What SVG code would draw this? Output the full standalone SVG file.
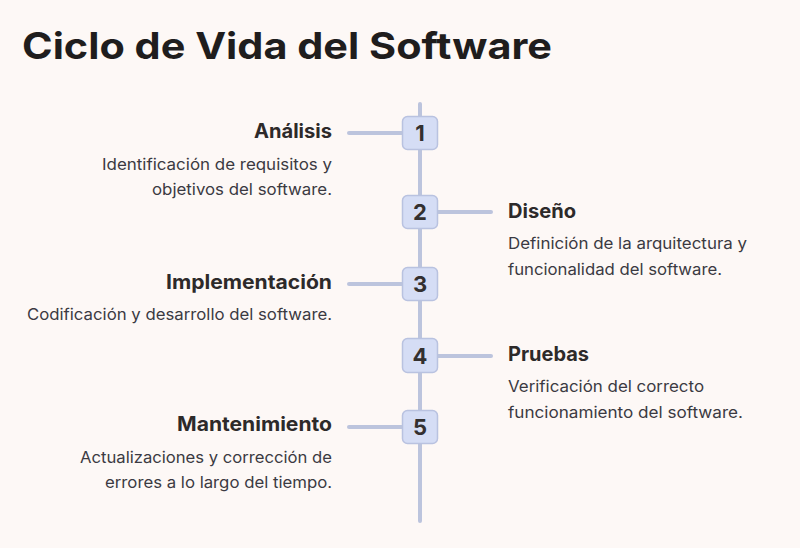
<svg xmlns="http://www.w3.org/2000/svg" width="800" height="548" viewBox="0 0 800 548">
  <style>
    .title { font-family: Inter, "Liberation Sans", sans-serif; font-weight: 700; font-size: 37px; fill: #1f1d1d; }
    .head { font-family: Inter, "Liberation Sans", sans-serif; font-weight: 700; font-size: 19.5px; fill: #2d2a2a; }
    .desc { font-family: Inter, "Liberation Sans", sans-serif; font-weight: 400; font-size: 16px; fill: #3b3a42; }
    .num { font-family: Inter, "Liberation Sans", sans-serif; font-weight: 700; font-size: 22px; fill: #333030; text-anchor: middle; }
    .box { fill: #d5ddf5; stroke: #b9c2e0; stroke-width: 1.5; }
    .line { stroke: #bcc4dd; stroke-width: 4; stroke-linecap: round; fill: none; }
    .l { text-anchor: end; }
  </style>
  <rect width="800" height="548" fill="#fdf8f6"/>

  <text class="title" x="22" y="59" textLength="530" lengthAdjust="spacingAndGlyphs">Ciclo de Vida del Software</text>

  <!-- timeline spine and branch connectors -->
  <g id="connectors">
    <line class="line" x1="420" y1="104" x2="420" y2="521"/>
    <line class="line" x1="349" y1="133" x2="402" y2="133"/>
    <line class="line" x1="438" y1="212" x2="491" y2="212"/>
    <line class="line" x1="349" y1="284" x2="402" y2="284"/>
    <line class="line" x1="438" y1="356" x2="491" y2="356"/>
    <line class="line" x1="349" y1="427" x2="402" y2="427"/>
  </g>

  <g id="step1">
    <rect class="box" x="402.5" y="116.5" width="35" height="33" rx="5"/>
    <text class="num" x="420" y="141">1</text>
    <text class="head l" x="332" y="138" textLength="78" lengthAdjust="spacingAndGlyphs">Análisis</text>
    <text class="desc l" x="332" y="170" textLength="230" lengthAdjust="spacingAndGlyphs">Identificación de requisitos y</text>
    <text class="desc l" x="332" y="195" textLength="180" lengthAdjust="spacingAndGlyphs">objetivos del software.</text>
  </g>

  <g id="step2">
    <rect class="box" x="402.5" y="195.5" width="35" height="33" rx="5"/>
    <text class="num" x="420" y="220">2</text>
    <text class="head" x="508" y="218" textLength="68" lengthAdjust="spacingAndGlyphs">Diseño</text>
    <text class="desc" x="508" y="249" textLength="239" lengthAdjust="spacingAndGlyphs">Definición de la arquitectura y</text>
    <text class="desc" x="508" y="275" textLength="214" lengthAdjust="spacingAndGlyphs">funcionalidad del software.</text>
  </g>

  <g id="step3">
    <rect class="box" x="402.5" y="267.5" width="35" height="33" rx="5"/>
    <text class="num" x="420" y="292">3</text>
    <text class="head l" x="332" y="289" textLength="166" lengthAdjust="spacingAndGlyphs">Implementación</text>
    <text class="desc l" x="332" y="320" textLength="305" lengthAdjust="spacingAndGlyphs">Codificación y desarrollo del software.</text>
  </g>

  <g id="step4">
    <rect class="box" x="402.5" y="338.5" width="35" height="34" rx="5"/>
    <text class="num" x="420" y="364">4</text>
    <text class="head" x="508" y="361" textLength="81" lengthAdjust="spacingAndGlyphs">Pruebas</text>
    <text class="desc" x="508" y="392" textLength="196" lengthAdjust="spacingAndGlyphs">Verificación del correcto</text>
    <text class="desc" x="508" y="418" textLength="235" lengthAdjust="spacingAndGlyphs">funcionamiento del software.</text>
  </g>

  <g id="step5">
    <rect class="box" x="402.5" y="410.5" width="35" height="33" rx="5"/>
    <text class="num" x="420" y="435">5</text>
    <text class="head l" x="332" y="431" textLength="155" lengthAdjust="spacingAndGlyphs">Mantenimiento</text>
    <text class="desc l" x="332" y="463" textLength="252" lengthAdjust="spacingAndGlyphs">Actualizaciones y corrección de</text>
    <text class="desc l" x="332" y="488" textLength="227" lengthAdjust="spacingAndGlyphs">errores a lo largo del tiempo.</text>
  </g>
</svg>
